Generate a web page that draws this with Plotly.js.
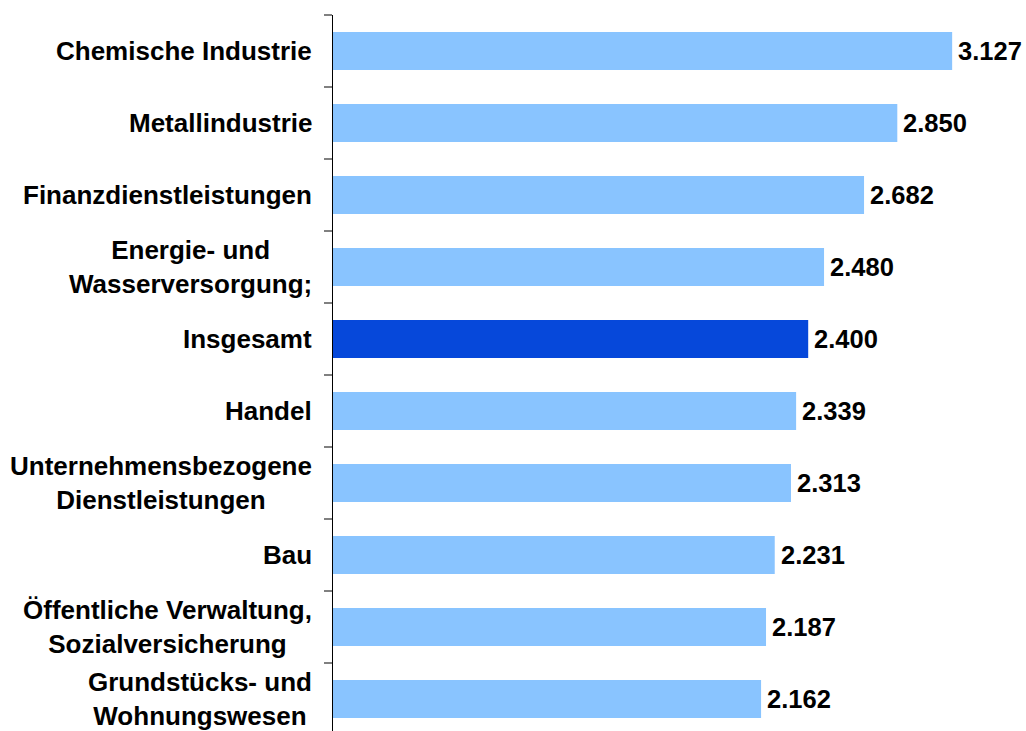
<!DOCTYPE html>
<html>
<head>
<meta charset="utf-8">
<script src="https://cdn.plot.ly/plotly-3.0.1.min.js"></script>
<style>
html,body{margin:0;padding:0;overflow:hidden;background:#fff;}
#chart{width:1026px;height:735px;}
</style>
</head>
<body>
<div id="chart"></div>
<script>
const categories = [
  "Chemische Industrie",
  "Metallindustrie",
  "Finanzdienstleistungen",
  "Energie- und<br>Wasserversorgung;",
  "Insgesamt",
  "Handel",
  "Unternehmensbezogene<br>Dienstleistungen",
  "Bau",
  "Öffentliche Verwaltung,<br>Sozialversicherung",
  "Grundstücks- und<br>Wohnungswesen"
];
const values = [3127, 2850, 2682, 2480, 2400, 2339, 2313, 2231, 2187, 2162];
const valueLabels = ["3.127", "2.850", "2.682", "2.480", "2.400", "2.339", "2.313", "2.231", "2.187", "2.162"];
const highlight = "Insgesamt";

const lightBlue = "#89C4FF";
const darkBlue = "#0648DA";
const fontFamily = "Liberation Sans, Arial, sans-serif";

const trace = {
  type: "bar",
  orientation: "h",
  y: categories,
  x: values,
  width: 0.53,
  marker: {color: categories.map(c => c === highlight ? darkBlue : lightBlue)},
  hoverinfo: "none"
};

const catAnnotations = categories.map(c => ({
  xref: "paper", yref: "y",
  x: 0, y: c,
  xanchor: "right", yanchor: "middle",
  xshift: -19,
  align: "center",
  showarrow: false,
  text: c,
  font: {family: fontFamily, size: 26, color: "#000", weight: "bold"}
}));

const valAnnotations = categories.map((c, i) => ({
  xref: "x", yref: "y",
  x: values[i], y: c,
  xanchor: "left", yanchor: "middle",
  xshift: 4,
  showarrow: false,
  text: valueLabels[i],
  font: {family: fontFamily, size: 25.5, color: "#000", weight: "bold"}
}));

const layout = {
  width: 1026, height: 735,
  margin: {l: 333, r: 0, t: 15, b: 0, pad: 0},
  paper_bgcolor: "#fff", plot_bgcolor: "#fff",
  showlegend: false,
  xaxis: {range: [0, 3500], visible: false, showgrid: false, zeroline: false, fixedrange: true},
  yaxis: {
    autorange: "reversed",
    showline: true, linecolor: "#000", linewidth: 1,
    ticks: "outside", tickson: "boundaries", ticklen: 8, tickwidth: 2, tickcolor: "#808080",
    showticklabels: false, showgrid: false, zeroline: false, fixedrange: true
  },
  annotations: catAnnotations.concat(valAnnotations)
};

Plotly.newPlot("chart", [trace], layout, {displayModeBar: false, staticPlot: true});
</script>
</body>
</html>
